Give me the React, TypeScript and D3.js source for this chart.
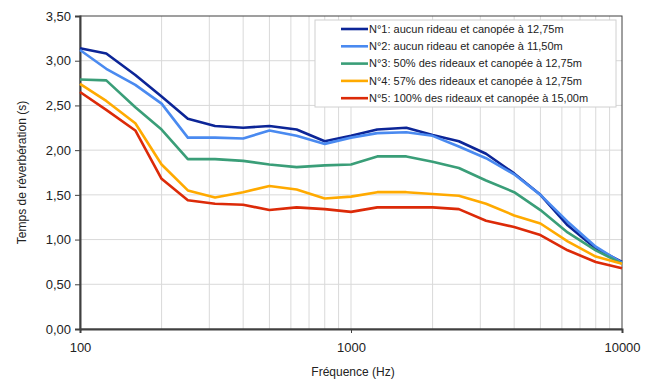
import { useEffect, useRef } from "react";
import * as d3 from "d3";

// third-octave bands (Hz)
const frequencies = [100, 125, 160, 200, 250, 315, 400, 500, 630, 800, 1000, 1250, 1600, 2000, 2500, 3150, 4000, 5000, 6300, 8000, 10000];

const n1 = [3.14, 3.08, 2.84, 2.6, 2.35, 2.27, 2.25, 2.27, 2.23, 2.1, 2.16, 2.23, 2.25, 2.17, 2.1, 1.96, 1.74, 1.5, 1.16, 0.9, 0.75];
const n2 = [3.12, 2.91, 2.73, 2.52, 2.14, 2.14, 2.13, 2.22, 2.16, 2.07, 2.14, 2.19, 2.2, 2.16, 2.04, 1.91, 1.73, 1.5, 1.2, 0.92, 0.74];
const n3 = [2.79, 2.78, 2.48, 2.23, 1.9, 1.9, 1.88, 1.84, 1.81, 1.83, 1.84, 1.93, 1.93, 1.87, 1.8, 1.66, 1.53, 1.33, 1.08, 0.88, 0.73];
const n4 = [2.74, 2.55, 2.3, 1.84, 1.55, 1.47, 1.53, 1.6, 1.56, 1.46, 1.48, 1.53, 1.53, 1.51, 1.49, 1.4, 1.27, 1.18, 0.98, 0.81, 0.73];
const n5 = [2.65, 2.45, 2.22, 1.68, 1.44, 1.4, 1.39, 1.33, 1.36, 1.34, 1.31, 1.36, 1.36, 1.36, 1.34, 1.21, 1.14, 1.05, 0.88, 0.75, 0.68];

const seriesNames = [
  "N°1: aucun rideau et canopée à 12,75m",
  "N°2: aucun rideau et canopée à 11,50m",
  "N°3: 50% des rideaux et canopée à 12,75m",
  "N°4: 57% des rideaux et canopée à 12,75m",
  "N°5: 100% des rideaux et canopée à 15,00m",
];
const seriesValues = [n1, n2, n3, n4, n5];
const colors = ["#0c2597", "#4a8af0", "#3a9e78", "#ffaa00", "#dc2a08"];

const yTicks = [0, 0.5, 1, 1.5, 2, 2.5, 3, 3.5];
const xTicks = [100, 1000, 10000];

const App = () => {
  const svgRef = useRef<SVGSVGElement>(null);

  useEffect(() => {
    const width = 653;
    const height = 385;
    const margin = { top: 16, right: 31, bottom: 56, left: 80 };
    const innerW = width - margin.left - margin.right;
    const innerH = height - margin.top - margin.bottom;

    d3.select(svgRef.current).selectAll("*").remove();

    const root = d3
      .select(svgRef.current)
      .attr("width", width)
      .attr("height", height)
      .style("font-family", "'Liberation Sans', Arial, sans-serif");

    const svg = root.append("g").attr("transform", `translate(${margin.left}, ${margin.top})`);

    const x = d3.scaleLog().domain([100, 10000]).range([0, innerW]);
    const y = d3.scaleLinear().domain([0, 3.5]).range([innerH, 0]);

    // grid
    const minor = x.ticks().filter((t) => t > 100 && t < 10000);
    svg
      .append("g")
      .selectAll("line")
      .data(minor)
      .join("line")
      .attr("x1", (d) => x(d))
      .attr("x2", (d) => x(d))
      .attr("y1", 0)
      .attr("y2", innerH)
      .attr("stroke", "#d9d9d9")
      .attr("stroke-width", 1);

    svg
      .append("g")
      .selectAll("line")
      .data(yTicks.filter((t) => t > 0 && t < 3.5))
      .join("line")
      .attr("x1", 0)
      .attr("x2", innerW)
      .attr("y1", (d) => y(d))
      .attr("y2", (d) => y(d))
      .attr("stroke", "#d9d9d9")
      .attr("stroke-width", 1);

    // frame
    svg
      .append("rect")
      .attr("x", 0)
      .attr("y", 0)
      .attr("width", innerW)
      .attr("height", innerH)
      .attr("fill", "none")
      .attr("stroke", "#404040")
      .attr("stroke-width", 1);

    // axes
    const yAxis = d3
      .axisLeft(y)
      .tickValues(yTicks)
      .tickSize(5)
      .tickPadding(4)
      .tickFormat((d) => d3.format(".2f")(d as number).replace(".", ","));
    const gy = svg.append("g").call(yAxis);
    gy.select(".domain").attr("stroke", "#404040").attr("stroke-width", 2);
    gy.selectAll(".tick line").attr("stroke", "#404040");
    gy.selectAll("text").attr("font-size", 13).attr("fill", "#222");

    const xAxis = d3
      .axisBottom(x)
      .tickValues(xTicks)
      .tickSize(4)
      .tickPadding(10)
      .tickFormat((d) => String(d));
    const gx = svg.append("g").attr("transform", `translate(0, ${innerH})`).call(xAxis);
    gx.select(".domain").attr("stroke", "#404040").attr("stroke-width", 2);
    gx.selectAll(".tick line").attr("stroke", "#404040");
    gx.selectAll("text").attr("font-size", 13).attr("fill", "#222");

    // axis titles
    svg
      .append("text")
      .attr("x", innerW / 2 + 2)
      .attr("y", innerH + 47)
      .attr("text-anchor", "middle")
      .attr("font-size", 12)
      .attr("fill", "#222")
      .text("Fréquence (Hz)");

    svg
      .append("text")
      .attr("transform", "rotate(-90)")
      .attr("x", -innerH / 2)
      .attr("y", -54)
      .attr("text-anchor", "middle")
      .attr("font-size", 12)
      .attr("fill", "#222")
      .text("Temps de réverbération (s)");

    // lines
    const line = d3
      .line<number>()
      .x((_, i) => x(frequencies[i]))
      .y((d) => y(d));

    svg
      .append("g")
      .selectAll("path")
      .data(seriesValues)
      .join("path")
      .attr("fill", "none")
      .attr("stroke", (_, i) => colors[i])
      .attr("stroke-width", 2.6)
      .attr("stroke-linejoin", "round")
      .attr("d", (d) => line(d));

    // legend
    const legend = root.append("g").attr("transform", "translate(315, 20)");
    legend
      .append("rect")
      .attr("width", 301)
      .attr("height", 87)
      .attr("fill", "white")
      .attr("stroke", "#d0d0d0");

    const rows = legend
      .selectAll("g")
      .data(seriesNames)
      .join("g")
      .attr("transform", (_, i) => `translate(0, ${9 + i * 17.3})`);

    rows
      .append("line")
      .attr("x1", 26)
      .attr("x2", 53)
      .attr("stroke", (_, i) => colors[i])
      .attr("stroke-width", 2.6);

    rows
      .append("text")
      .attr("x", 54)
      .attr("dy", "0.35em")
      .attr("font-size", 11)
      .attr("fill", "#222")
      .text((d) => d);
  }, []);

  return <svg ref={svgRef} style={{ position: "absolute", left: 0, top: 0 }}></svg>;
};

export default App;
